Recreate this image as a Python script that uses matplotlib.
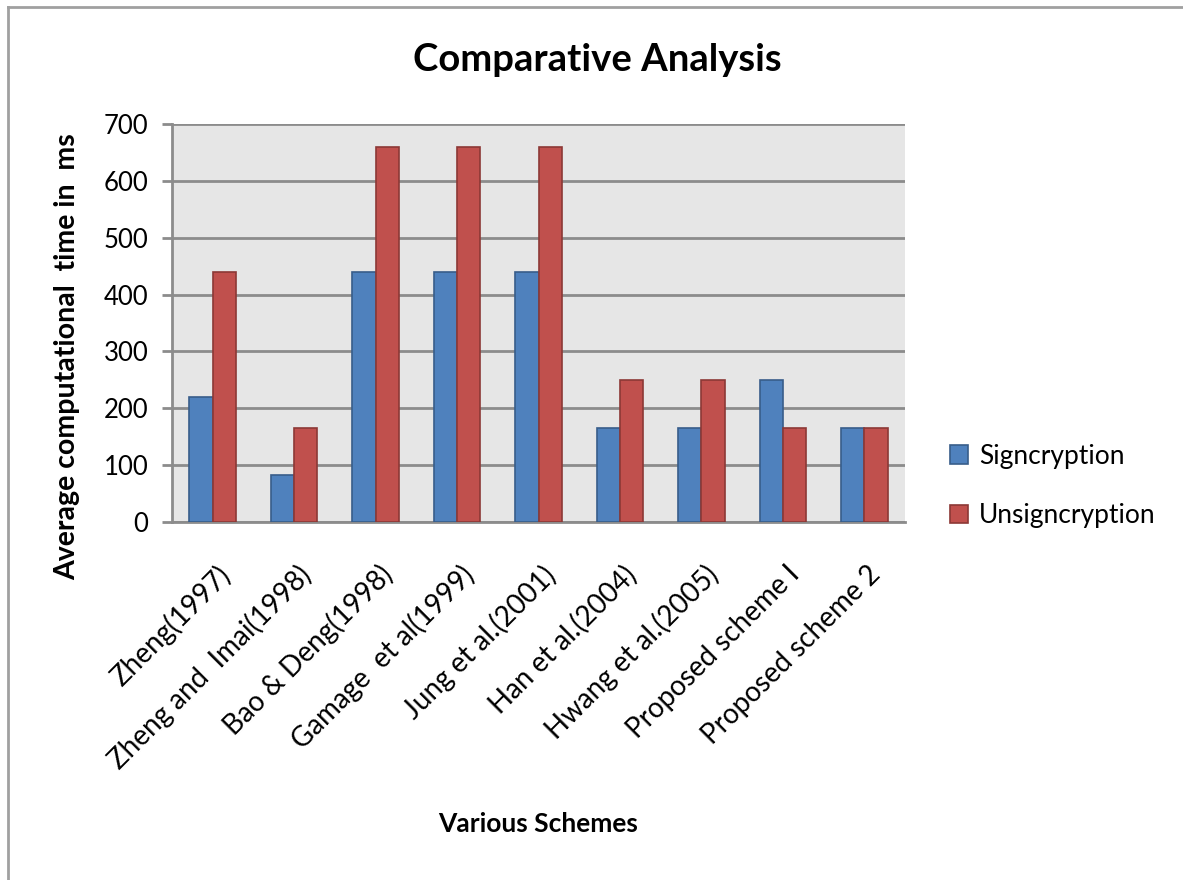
import numpy as np
import matplotlib.pyplot as plt
import matplotlib.transforms as mtransforms
from matplotlib.lines import Line2D

plt.rcParams['font.family'] = ['Lato', 'DejaVu Sans']

schemes = ['Zheng(1997)', 'Zheng and  Imai(1998)', 'Bao & Deng(1998)',
           'Gamage  et al(1999)', 'Jung et al.(2001)', 'Han et al.(2004)',
           'Hwang et al.(2005)', 'Proposed scheme I', 'Proposed scheme 2']
signcryption = [220, 82, 440, 440, 440, 165, 165, 250, 165]
unsigncryption = [440, 165, 660, 660, 660, 250, 250, 165, 165]
yticks = [0, 100, 200, 300, 400, 500, 600, 700]

fig = plt.figure(figsize=(11.83, 8.8), dpi=100)
W, H = 1183, 880
ax = fig.add_axes([172 / W, 1 - 522 / H, (905 - 172) / W, (522 - 124) / H])
ax.set_facecolor('#e6e6e6')

x = np.arange(len(schemes))
bw = 1 / 3.5
ax.bar(x - bw / 2, signcryption, bw, color='#4f81bd', edgecolor='#385d8a',
       linewidth=1.2, label='Signcryption', zorder=3)
ax.bar(x + bw / 2, unsigncryption, bw, color='#c0504d', edgecolor='#8c3836',
       linewidth=1.2, label='Unsigncryption', zorder=3)

ax.set_xlim(-0.5, len(schemes) - 0.5)
ax.set_ylim(0, 700)
ax.set_yticks(yticks)
ax.tick_params(axis='y', length=7, width=2, color='#8c8c8c', labelsize=18.5, pad=10)
ax.tick_params(axis='x', length=0, labelsize=20, pad=28)
ax.set_xticks(x)
ax.set_xticklabels(schemes, rotation=45, ha='right', rotation_mode='anchor')
shift = mtransforms.ScaledTranslation(3 / 100, 0, fig.dpi_scale_trans)
for lab in ax.get_xticklabels():
    lab.set_transform(lab.get_transform() + shift)
ax.grid(axis='y', color='#8c8c8c', linewidth=2, zorder=1)
ax.set_axisbelow(True)
for s in ['top', 'right']:
    ax.spines[s].set_visible(False)
ax.spines['left'].set_color('#8c8c8c')
ax.spines['left'].set_linewidth(2)
ax.spines['bottom'].set_color('#8c8c8c')
ax.spines['bottom'].set_linewidth(2)

fig.text(597 / W, 1 - 60 / H, 'Comparative Analysis', ha='center', va='center',
         fontsize=27.5, fontweight='bold')
fig.text(538 / W, 1 - 824 / H, 'Various Schemes', ha='center', va='center',
         fontsize=19, fontweight='bold')
fig.text(67 / W, 1 - 357 / H, 'Average computational  time in  ms', ha='center',
         va='center', rotation=90, fontsize=20.5, fontweight='bold')

ax.legend(loc='center left', bbox_to_anchor=(926 / W, 1 - 486 / H),
          bbox_transform=fig.transFigure, frameon=False, fontsize=19,
          handlelength=0.7, handleheight=0.7, labelspacing=1.3, handletextpad=0.4)

# chart frame
fig.add_artist(Line2D([8 / W, 8 / W], [0, 1 - 7 / H], color='#a0a0a0', linewidth=2))
fig.add_artist(Line2D([8 / W, 1], [1 - 7 / H, 1 - 7 / H], color='#a0a0a0', linewidth=2))

fig.savefig('out.png', dpi=100, facecolor='white')
